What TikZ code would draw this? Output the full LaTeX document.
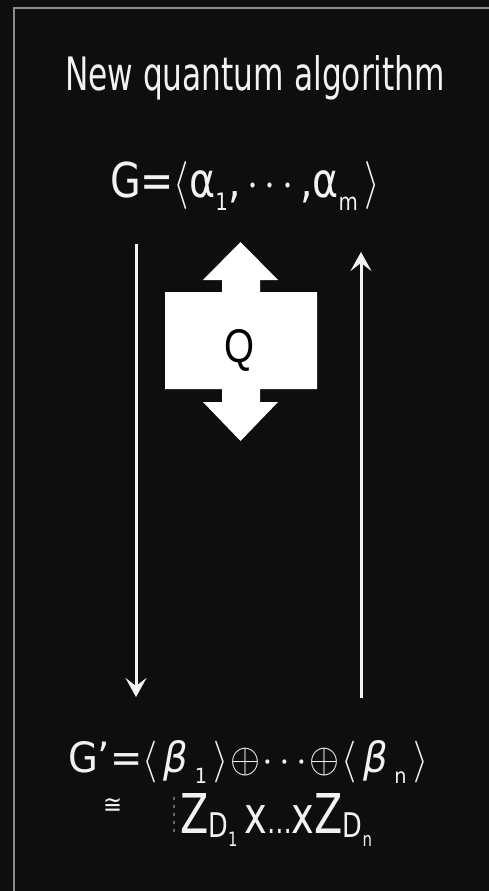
\documentclass[tikz,border=0pt]{standalone}
\usepackage{fontspec}
\usepackage{graphicx}
\setmainfont{DejaVu Sans}
\newfontfamily\qfont{Liberation Sans}
\usetikzlibrary{arrows.meta}
\definecolor{bgc}{HTML}{0E0E0E}
\definecolor{bordc}{HTML}{8C8C8C}
\definecolor{ink}{HTML}{F2F2F2}
\tikzset{
  lbl/.style={anchor=base west, inner sep=0pt, outer sep=0pt, text=ink},
  conn/.style={draw=ink, line width=3pt, -{Stealth[length=19pt,width=21pt,inset=8pt]}},
  qshape/.style={fill=white, draw=none},
}
\newcommand{\lowsub}[1]{\raisebox{-0.28em}{\fontsize{5}{6}\selectfont #1}}
\begin{document}
\begin{tikzpicture}[x=1pt,y=-1pt]
\fill[bgc] (0,0) rectangle (489,891);
\useasboundingbox (0,0) rectangle (489,891);
\draw[bordc, line width=1.8pt] (14,891) -- (14,8) -- (489,8);

% title
\node[lbl] (title) at (65,90) {\resizebox{380pt}{35pt}{New quantum algorithm}};

% top group
\node[lbl] (G) at (110,197) {\resizebox{270pt}{36pt}{G=$\langle$α\lowsub{1},\,$\cdots$\,,α\lowsub{m}\,$\rangle$}};

% bottom group
\node[lbl] (Gp) at (68,772) {\resizebox{360pt}{32pt}{G’=$\langle$\,{\itshape β}\,\lowsub{1}\,$\rangle\!\oplus\!\cdots\!\oplus\!\langle$\,{\itshape β}\,\lowsub{n}\,$\rangle$}};
\node[lbl] (iso) at (103,813) {\resizebox{19pt}{15pt}{≅}};
\draw[bordc!70!bgc, line width=1.2pt, dash pattern=on 3pt off 5pt] (174,797) -- (174,832);
\node[lbl] (Z) at (180,833) {\resizebox{192pt}{40pt}{%
  \fontsize{10}{12}\selectfont Z\raisebox{-0.9pt}{\fontsize{6.2}{7}\selectfont D\raisebox{-1.6pt}{\fontsize{3.6}{4}\selectfont 1}}\,%
  {\fontsize{9.3}{11}\selectfont x}{\fontsize{6}{7}\selectfont …}{\fontsize{9.3}{11}\selectfont x}%
  Z\raisebox{-0.9pt}{\fontsize{6.2}{7}\selectfont D\raisebox{-1.6pt}{\fontsize{3.6}{4}\selectfont n}}}};

% Q double arrow block
\fill[qshape] (240.5,242) -- (278,280) -- (260,280) -- (260,292) -- (317,292) -- (317,389)
  -- (260,389) -- (260,402) -- (278,402) -- (240.5,441) -- (203,402) -- (222,402)
  -- (222,389) -- (165,389) -- (165,292) -- (222,292) -- (222,280) -- (203,280) -- cycle;
\node[anchor=base west, inner sep=0pt, text=black, font=\qfont] (Q) at (224,362) {\resizebox{30pt}{33pt}{Q}};

% connectors
\coordinate (ls) at (136,244);
\coordinate (le) at (136,697);
\coordinate (rs) at (361,698);
\coordinate (re) at (361,252);
\draw[conn] (ls) -- (le);
\draw[conn] (rs) -- (re);
\end{tikzpicture}
\end{document}
